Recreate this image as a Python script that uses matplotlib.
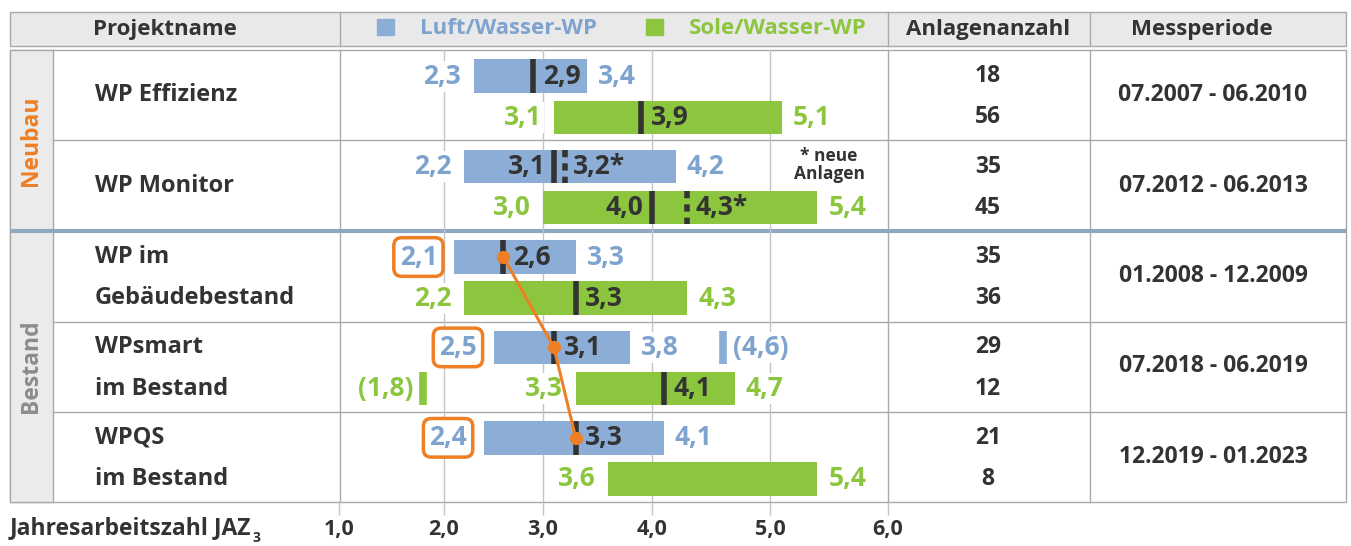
"""
Jahresarbeitszahlen (JAZ3) verschiedener Feldtest-Projekte:
Spannweite (min - max) und Median für Luft/Wasser- und Sole/Wasser-WP,
dazu Anlagenanzahl und Messperiode als Tabelle.

Ausgabe: out.png
"""
import numpy as np
import matplotlib
matplotlib.use("Agg")
import matplotlib.pyplot as plt
from matplotlib.patches import Rectangle, Patch
from matplotlib.transforms import blended_transform_factory

plt.rcParams["font.family"] = ["Open Sans", "DejaVu Sans"]
plt.rcParams["font.weight"] = "bold"

# --- Daten ---------------------------------------------------------------
PROJEKTE = [["WP Effizienz"], ["WP Monitor"], ["WP im", "Gebäudebestand"],
            ["WPsmart", "im Bestand"], ["WPQS", "im Bestand"]]
GRUPPEN = ["Neubau", "Bestand"]
GRUPPE_ZEILEN = [(0, 2), (2, 5)]

LW_MIN = [2.3, 2.2, 2.1, 2.5, 2.4]
LW_MED = [2.9, 3.1, 2.6, 3.1, 3.3]
LW_MAX = [3.4, 4.2, 3.3, 3.8, 4.1]
SW_MIN = [3.1, 3.0, 2.2, 3.3, 3.6]
SW_MED = [3.9, 4.0, 3.3, 4.1, None]
SW_MAX = [5.1, 5.4, 4.3, 4.7, 5.4]

# Median nur neue Anlagen (WP Monitor)
LW_MED_NEU = [None, 3.2, None, None, None]
SW_MED_NEU = [None, 4.3, None, None, None]

# Ausreißer (WPsmart)
LW_AUSREISSER = [None, None, None, 4.6, None]
SW_AUSREISSER = [None, None, None, 1.8, None]

ANZ_LW = [18, 35, 35, 29, 21]
ANZ_SW = [56, 45, 36, 12, 8]
MESSPERIODE = ["07.2007 - 06.2010", "07.2012 - 06.2013", "01.2008 - 12.2009",
               "07.2018 - 06.2019", "12.2019 - 01.2023"]

TICKS = [1, 2, 3, 4, 5, 6]
TICK_LABELS = ["1,0", "2,0", "3,0", "4,0", "5,0", "6,0"]
# die gedruckte Skala ist nicht ganz linear -> Pixelposition der Gitterlinien
TICK_PX = [339, 444, 543, 652, 770, 888]

# --- Farben ----------------------------------------------------------------
BLAU = "#8badd6"
BLAU_TXT = "#7fa3cf"
GRUEN = "#8cc63e"
GRUEN_TXT = "#8cc63e"
DUNKEL = "#333333"
ORANGE = "#ef7f24"
LINIE = "#a9a9a9"
GITTER = "#c4c4c4"
KOPF_BG = "#e9e9e9"

W, H = 1351, 546
FS = 19       # Werte an den Balken
FS_TAB = 16.5  # Tabellentext


def fmt(v):
    return f"{v:.1f}".replace(".", ",")


fig = plt.figure(figsize=(W / 100, H / 100), dpi=100)

# Tabellen-Achse in Pixelkoordinaten
tab = fig.add_axes([0, 0, 1, 1])
tab.set_xlim(0, W)
tab.set_ylim(H, 0)
tab.axis("off")

# Kopfzeile
tab.add_patch(Rectangle((10, 12), 1336, 34, fc=KOPF_BG, ec=LINIE, lw=1))
for x in (340, 888, 1090):
    tab.plot([x, x], [12, 46], color=LINIE, lw=1)
tab.text(165, 29, "Projektname", ha="center", va="center", fontsize=16, color=DUNKEL)
tab.text(988, 29, "Anlagenanzahl", ha="center", va="center", fontsize=16, color=DUNKEL)
tab.text(1202, 29, "Messperiode", ha="center", va="center", fontsize=16, color=DUNKEL)
tab.legend([Patch(color=BLAU), Patch(color=GRUEN)],
           ["Luft/Wasser-WP", "Sole/Wasser-WP"],
           loc="center", bbox_to_anchor=(622, 29), bbox_transform=tab.transData,
           ncol=2, frameon=False, fontsize=16, labelcolor=[BLAU_TXT, GRUEN_TXT],
           handlelength=0.75, handleheight=0.75, handletextpad=1.2,
           columnspacing=2.2, borderpad=0, borderaxespad=0)

# Tabellenkörper
tab.add_patch(Rectangle((10, 50), 1336, 452, fc="white", ec=LINIE, lw=1))
tab.add_patch(Rectangle((10, 50), 43, 452, fc="#ebebeb", ec=LINIE, lw=1))
for y in (140, 322, 412):
    tab.plot([53, 1346], [y, y], color=LINIE, lw=1)
for x in (340, 888, 1090):
    tab.plot([x, x], [50, 502], color=LINIE, lw=1)
tab.plot([10, 1346], [231, 231], color="#8fa8c1", lw=3, solid_capstyle="butt", zorder=5)

# Diagramm-Achse (x: JAZ, y: Zeilen)
ax = fig.add_axes([339 / W, (H - 502) / H, 549 / W, 452 / H])
ax.set_xscale("function", functions=(lambda v: np.interp(v, TICKS, TICK_PX),
                                      lambda p: np.interp(p, TICK_PX, TICKS)))
ax.set_xlim(1, 6)
ax.set_ylim(5, 0)
ax.patch.set_alpha(0)
for s in ax.spines.values():
    s.set_visible(False)
ax.set_xticks(TICKS)
ax.set_xticklabels(TICK_LABELS)
ax.tick_params(axis="x", length=9, width=1, color=GITTER, pad=3,
               labelsize=15.5, labelcolor=DUNKEL)
ax.tick_params(axis="y", left=False, labelleft=False)
for t in TICKS[1:-1]:
    ax.axvline(t, color=GITTER, lw=1, zorder=0)

n = len(PROJEKTE)
y_lw = np.arange(n) + 0.29
y_sw = np.arange(n) + 0.745
bh = 0.37

ax.barh(y_lw, np.array(LW_MAX) - np.array(LW_MIN), left=LW_MIN, height=bh,
        color=BLAU, zorder=2)
ax.barh(y_sw, np.array(SW_MAX) - np.array(SW_MIN), left=SW_MIN, height=bh,
        color=GRUEN, zorder=2)

weiss = dict(fc="white", ec="none", pad=1.5)
orange_box = dict(boxstyle="round,pad=0.22,rounding_size=0.3", fc="white",
                  ec=ORANGE, lw=2.5)
bestand = [i >= GRUPPE_ZEILEN[1][0] for i in range(n)]

for i in range(n):
    for y, lo, med, hi, neu, ausr, col in (
            (y_lw[i], LW_MIN[i], LW_MED[i], LW_MAX[i], LW_MED_NEU[i], LW_AUSREISSER[i], BLAU_TXT),
            (y_sw[i], SW_MIN[i], SW_MED[i], SW_MAX[i], SW_MED_NEU[i], SW_AUSREISSER[i], GRUEN_TXT)):
        box = orange_box if (bestand[i] and col == BLAU_TXT) else weiss
        off = -12 if box is orange_box else -9
        ax.annotate(fmt(lo), (lo, y), xytext=(off, 0), textcoords="offset points",
                    ha="right", va="center", fontsize=FS, color=col, bbox=box, zorder=4)
        ax.annotate(fmt(hi), (hi, y), xytext=(8, 0), textcoords="offset points",
                    ha="left", va="center", fontsize=FS, color=col, bbox=weiss, zorder=4)
        if med is not None:
            ax.vlines(med, y - bh / 2, y + bh / 2, colors=DUNKEL, lw=4, zorder=3)
            if neu is None:
                ax.annotate(fmt(med), (med, y), xytext=(7, 0), textcoords="offset points",
                            ha="left", va="center", fontsize=FS, color=DUNKEL, zorder=4)
            else:
                ax.annotate(fmt(med), (med, y), xytext=(-6, 0), textcoords="offset points",
                            ha="right", va="center", fontsize=FS, color=DUNKEL, zorder=4)
                ax.vlines(neu, y - bh / 2, y + bh / 2, colors=DUNKEL, lw=4,
                          linestyles=(0, (1.3, 1.1)), zorder=3)
                ax.annotate(fmt(neu) + "*", (neu, y), xytext=(6, 0), textcoords="offset points",
                            ha="left", va="center", fontsize=FS, color=DUNKEL, zorder=4)
        if ausr is not None:
            farbe = BLAU if col == BLAU_TXT else GRUEN
            ax.vlines(ausr, y - bh / 2, y + bh / 2, colors=farbe, lw=5.5, zorder=3)
            if ausr > hi:
                ax.annotate(f"({fmt(ausr)})", (ausr, y), xytext=(7, 0), textcoords="offset points",
                            ha="left", va="center", fontsize=FS, color=col, bbox=weiss, zorder=4)
            else:
                ax.annotate(f"({fmt(ausr)})", (ausr, y), xytext=(-7, 0), textcoords="offset points",
                            ha="right", va="center", fontsize=FS, color=col, bbox=weiss, zorder=4)

# Entwicklung des Medians der Luft/Wasser-WP im Bestand
idx = [i for i in range(n) if bestand[i]]
ax.plot([LW_MED[i] for i in idx], [y_lw[i] for i in idx], color=ORANGE, lw=2.2,
        marker="o", markersize=8.5, zorder=5)

ax.text(5.5, 1.27, "* neue\nAnlagen", ha="center", va="center", fontsize=12.5,
        color=DUNKEL, linespacing=1.0, zorder=4)

# Textspalten (x in Pixel, y in Zeilen)
trans = blended_transform_factory(tab.transData, ax.transData)
for i, name in enumerate(PROJEKTE):
    if len(name) == 1:
        ax.text(95, i + 0.5, name[0], transform=trans, ha="left", va="center",
                fontsize=17, color=DUNKEL)
    else:
        ax.text(95, y_lw[i], name[0], transform=trans, ha="left", va="center",
                fontsize=17, color=DUNKEL)
        ax.text(95, y_sw[i], name[1], transform=trans, ha="left", va="center",
                fontsize=17, color=DUNKEL)
    ax.text(988, y_lw[i], str(ANZ_LW[i]), transform=trans, ha="center", va="center",
            fontsize=FS_TAB, color=DUNKEL)
    ax.text(988, y_sw[i], str(ANZ_SW[i]), transform=trans, ha="center", va="center",
            fontsize=FS_TAB, color=DUNKEL)
    ax.text(1213, i + 0.5, MESSPERIODE[i], transform=trans, ha="center", va="center",
            fontsize=FS_TAB, color=DUNKEL)

for g, (a, b), farbe in zip(GRUPPEN, GRUPPE_ZEILEN, [ORANGE, "#8c8c8c"]):
    ax.text(31, (a + b) / 2, g, transform=trans, ha="center", va="center",
            rotation=90, fontsize=16.5, color=farbe)

# Achsentitel unten
t = tab.text(10, 528, "Jahresarbeitszahl JAZ", ha="left", va="center",
             fontsize=16.5, color=DUNKEL)
tab.annotate("3", xy=(1, 0.1), xycoords=t, xytext=(1, 0), textcoords="offset points",
             ha="left", va="center", fontsize=10, color=DUNKEL)

fig.savefig("out.png", dpi=100)
